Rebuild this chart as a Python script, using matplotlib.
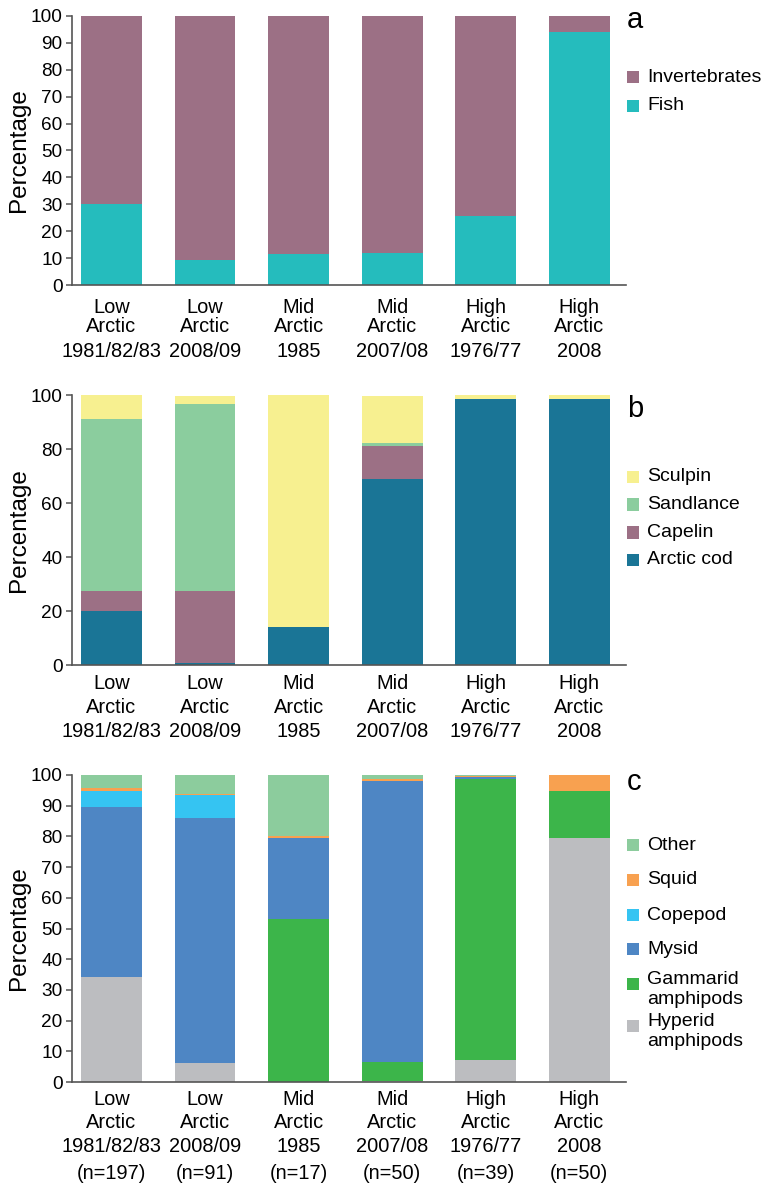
import matplotlib
matplotlib.use("Agg")
import matplotlib.pyplot as plt
from matplotlib.patches import Rectangle

plt.rcParams['font.family'] = ['Liberation Sans', 'DejaVu Sans']

regions = ["Low\nArctic", "Low\nArctic", "Mid\nArctic", "Mid\nArctic", "High\nArctic", "High\nArctic"]
years = ["1981/82/83", "2008/09", "1985", "2007/08", "1976/77", "2008"]
sample_n = ["(n=197)", "(n=91)", "(n=17)", "(n=50)", "(n=39)", "(n=50)"]

# panel a: fish vs invertebrates (%)
fish = [30.2, 9.4, 11.6, 12.0, 25.7, 93.8]
invertebrates = [100 - f for f in fish]

# panel b: fish species (%)
arctic_cod = [20.1, 0.9, 14.2, 69.0, 98.6, 98.6]
capelin = [7.4, 26.6, 0.0, 12.2, 0.0, 0.0]
sandlance = [63.7, 69.3, 0.0, 1.1, 0.0, 0.0]
sculpin = [8.8, 2.9, 85.8, 17.5, 1.4, 1.4]

# panel c: invertebrate prey (%)
hyperid = [34.2, 6.2, 0.0, 0.3, 7.2, 79.5]
gammarid = [0.0, 0.0, 53.1, 6.3, 91.5, 15.3]
mysid = [55.4, 79.8, 26.5, 91.5, 0.6, 0.0]
copepod = [5.2, 7.5, 0.0, 0.0, 0.0, 0.0]
squid = [1.0, 0.4, 0.6, 0.6, 0.4, 5.2]
other = [4.2, 6.1, 19.8, 1.3, 0.3, 0.0]

W, H = 763, 1185
fig = plt.figure(figsize=(W / 100, H / 100), dpi=100)
left, width = 0.094, 0.7265
ax_a = fig.add_axes([left, 0.7592, width, 0.2276])
ax_b = fig.add_axes([left, 0.4386, width, 0.2278])
ax_c = fig.add_axes([left, 0.0869, width, 0.2591])

tick_fs = 13.7
cat_fs = 14.4
leg_fs = 14
x = list(range(len(years)))
bw = 0.65


def stack(ax, series):
    bottom = [0.0] * len(x)
    for vals, col, lab in series:
        ax.bar(x, vals, bw, bottom=bottom, color=col, linewidth=0, label=lab)
        bottom = [b + v for b, v in zip(bottom, vals)]


def style(ax, yticks, offs, extra=None):
    ax.set_xlim(-0.425, 5.5)
    ax.set_ylim(0, 100)
    ax.set_yticks(yticks)
    ax.tick_params(axis='y', labelsize=tick_fs, length=4.5, width=1.1, color='#555555',
                   direction='out', pad=2)
    ax.set_xticks([])
    for s in ['top', 'right']:
        ax.spines[s].set_visible(False)
    for s in ['left', 'bottom']:
        ax.spines[s].set_color('#555555')
        ax.spines[s].set_linewidth(1.2)
    ax.set_ylabel("Percentage", fontsize=17.5)
    ax.yaxis.set_label_coords(-0.075, 0.5)
    for i in x:
        r1, r2 = regions[i].split("\n")
        labels = [r1, r2, years[i]]
        if extra is not None:
            labels.append(extra[i])
        for lab, off in zip(labels, offs):
            ax.annotate(lab, xy=(i, 0), xycoords=('data', 'axes fraction'),
                        xytext=(0, -off), textcoords='offset pixels',
                        ha='center', va='center', fontsize=cat_fs, annotation_clip=False)


def legend(entries, rows):
    # entries: (label, colour); rows: pixel y of square centre for each entry
    for (lab, col), yc in zip(entries, rows):
        fig.patches.append(Rectangle((627 / W, 1 - (yc + 6) / H), 12 / W, 12 / H,
                                     transform=fig.transFigure, color=col, linewidth=0))
        for k, line in enumerate(lab.split("\n")):
            yl = yc - 4 + 20 * k if "\n" in lab else yc
            fig.text(647 / W, 1 - yl / H, line, fontsize=leg_fs, va='center', ha='left')


stack(ax_a, [(fish, '#25bcbd', 'Fish'), (invertebrates, '#9c7085', 'Invertebrates')])
style(ax_a, range(0, 101, 10), [22, 41, 66])
legend([('Invertebrates', '#9c7085'), ('Fish', '#25bcbd')], [77, 106])
fig.text(627 / W, 1 - 28 / H, 'a', fontsize=21, va='baseline', ha='left')

stack(ax_b, [(arctic_cod, '#1a7596', 'Arctic cod'), (capelin, '#9c7085', 'Capelin'),
             (sandlance, '#8bcd9e', 'Sandlance'), (sculpin, '#f7f090', 'Sculpin')])
style(ax_b, range(0, 101, 20), [18, 42, 66])
legend([('Sculpin', '#f7f090'), ('Sandlance', '#8bcd9e'), ('Capelin', '#9c7085'),
        ('Arctic cod', '#1a7596')], [477, 504.5, 532.5, 560])
fig.text(627 / W, 1 - 417 / H, 'b', fontsize=21, va='baseline', ha='left')

stack(ax_c, [(hyperid, '#bcbdc0', 'Hyperid\namphipods'), (gammarid, '#3cb54a', 'Gammarid\namphipods'),
             (mysid, '#4e86c4', 'Mysid'), (copepod, '#35c4f2', 'Copepod'),
             (squid, '#f8a150', 'Squid'), (other, '#8ccc9d', 'Other')])
style(ax_c, range(0, 101, 10), [17, 40, 64, 91], extra=sample_n)
legend([('Other', '#8ccc9d'), ('Squid', '#f8a150'), ('Copepod', '#35c4f2'), ('Mysid', '#4e86c4'),
        ('Gammarid\namphipods', '#3cb54a'), ('Hyperid\namphipods', '#bcbdc0')],
       [845, 880, 915, 949, 984, 1026])
fig.text(627 / W, 1 - 790 / H, 'c', fontsize=21, va='baseline', ha='left')

fig.savefig("out.png", dpi=100)
